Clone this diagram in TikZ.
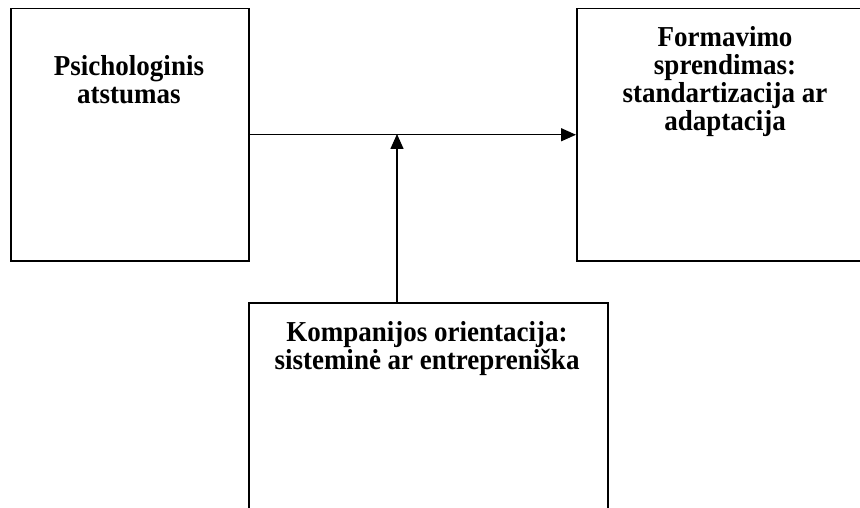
\documentclass[tikz,border=0pt]{standalone}
\usepackage{fontspec}
\setmainfont{Liberation Serif}
\usetikzlibrary{arrows.meta}
\begin{document}
\begin{tikzpicture}[x=1pt,y=-1pt,
  box/.style={draw,line width=1.5pt,rectangle,inner sep=0pt,anchor=north west},
  caption/.style={font=\fontsize{27}{26.2}\selectfont\bfseries,align=center,anchor=north,inner sep=0pt,yscale=1.07,transform shape},
  link/.style={line width=1.5pt,-{Triangle[length=15pt,width=13pt]}}]
\useasboundingbox (0,0) rectangle (860,508);
\clip (0,0) rectangle (860,508);

% the three boxes (the right and lower ones run past the page edge)
\node[box,minimum width=238pt,minimum height=252pt] (psy) at (10,8) {};
\node[box,minimum width=298pt,minimum height=252pt] (form) at (576,8) {};
\node[box,minimum width=359pt,minimum height=240pt] (orient) at (248,302) {};

% box captions, slightly stretched upright
\node[caption] (psytext) at (129,55.5) {Psichologinis\\atstumas};
\node[caption] (formtext) at (725,26.5) {Formavimo\\sprendimas:\\standartizacija ar\\adaptacija};
\node[caption] (orienttext) at (427,321) {Kompanijos orientacija:\\sistemin\.e ar entrepreni\v ska};

% connectors
\coordinate (join) at (397,134);
\draw[link] (psy.east) -- (form.west);
\draw[link] (join |- orient.north) -- (join);
\end{tikzpicture}
\end{document}
